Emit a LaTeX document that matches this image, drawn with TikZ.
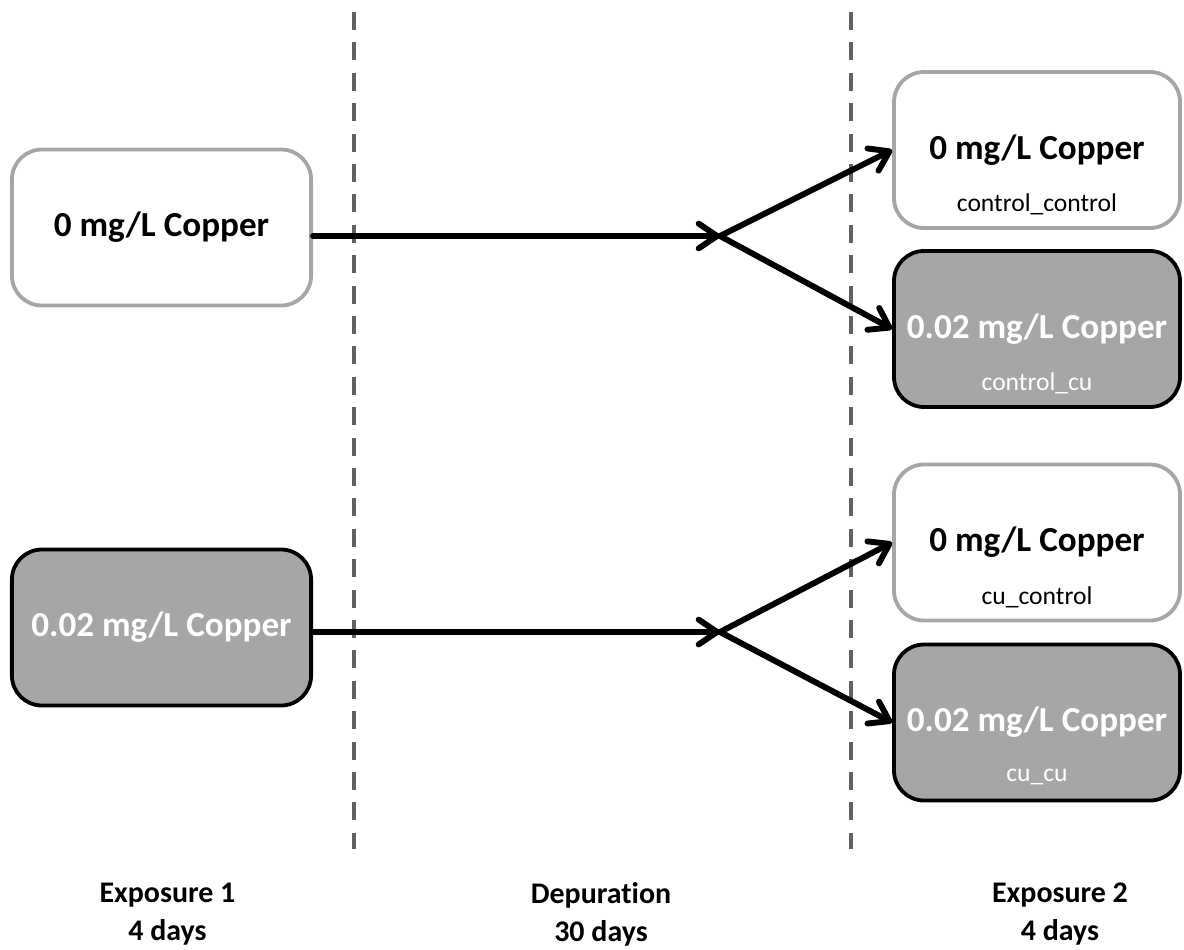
\documentclass[tikz,border=0pt]{standalone}
\usepackage{fontspec}
\setmainfont{Carlito}[Ligatures=NoCommon]
\usetikzlibrary{arrows.meta}

\definecolor{boxgray}{HTML}{A6A6A6}
\definecolor{dashgray}{HTML}{606060}

\begin{document}
\begin{tikzpicture}[x=0.25mm,y=-0.25mm,
  plainbox/.style={draw=boxgray,line width=2.7pt,fill=white,rounded corners=7.5mm,
    minimum width=71.5mm,minimum height=39mm,inner sep=0pt,
    font=\fontsize{25}{30}\selectfont\bfseries},
  copperbox/.style={plainbox,draw=black,fill=boxgray,text=white},
  tag/.style={font=\fontsize{18.2}{22}\selectfont},
  stage/.style={align=center,font=\fontsize{21.3}{27}\selectfont\bfseries},
  flow/.style={line width=4.2pt,line cap=round,-{Straight Barb[round,length=4.6mm,width=6.2mm]}},
  divider/.style={dashgray,line width=2.2pt,dash pattern=on 4.5mm off 3.1mm}]
  \useasboundingbox (0,0) rectangle (1184,949);

  % phase dividers
  \draw[divider] (354,12) -- (354,849);
  \draw[divider] (851,12) -- (851,849);

  % first exposure
  \node[plainbox,minimum width=74.8mm] (ctl) at (161.5,227.5) {0 mg/L Copper};
  \node[copperbox,minimum width=74.8mm] (cu) at (161.5,627.5) {0.02 mg/L Copper};

  % second exposure
  \node[plainbox] (ctlctl) at (1037,150) {0 mg/L Copper};
  \node[tag] (ctlctl-id) at (1037,204) {control\_control};
  \node[copperbox] (ctlcu) at (1037,329) {0.02 mg/L Copper};
  \node[tag,text=white] (ctlcu-id) at (1037,383) {control\_cu};
  \node[plainbox] (cuctl) at (1037,542.5) {0 mg/L Copper};
  \node[tag] (cuctl-id) at (1037,597) {cu\_control};
  \node[copperbox] (cucu) at (1037,722.5) {0.02 mg/L Copper};
  \node[tag,text=white] (cucu-id) at (1037,777) {cu\_cu};

  % split points after depuration
  \coordinate (s1) at (720,236);
  \coordinate (s2) at (720,632);

  \draw[flow] (ctl.east |- s1) -- (s1);
  \draw[flow] (s1) -- (ctlctl.west);
  \draw[flow] (s1) -- (ctlcu.west);
  \draw[flow] (cu.east |- s2) -- (s2);
  \draw[flow] (s2) -- (cuctl.west);
  \draw[flow] (s2) -- (cucu.west);

  % time line
  \node[stage] (exp1) at (167.5,914) {Exposure 1\\4 days};
  \node[stage] (dep) at (601,914) {Depuration\\30 days};
  \node[stage] (exp2) at (1060,914) {Exposure 2\\4 days};
\end{tikzpicture}
\end{document}
